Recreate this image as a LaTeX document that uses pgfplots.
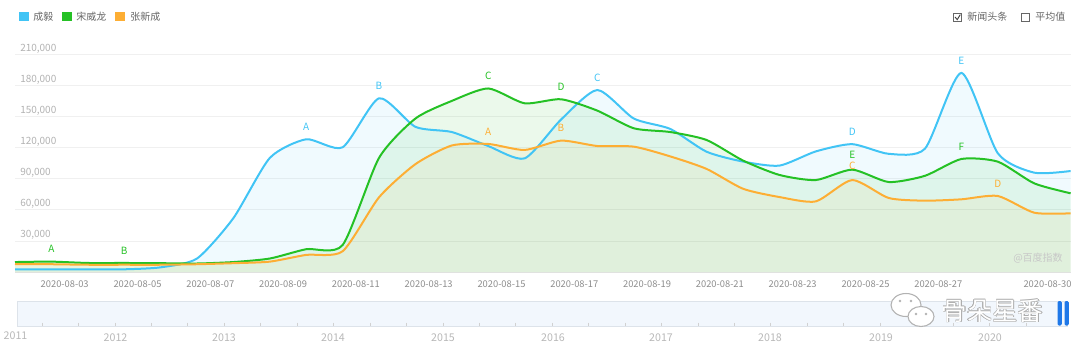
\documentclass[border=0pt]{standalone}
\usepackage{pgfplots}
\pgfplotsset{compat=1.18}
\usepackage{pgfplotstable}
\usetikzlibrary{calc}
\usepackage{fontspec}
\setmainfont{Noto Sans CJK SC}
\definecolor{cb}{HTML}{41C4F5}
\definecolor{cg}{HTML}{25C125}
\definecolor{co}{HTML}{FDAE34}
\definecolor{slfill}{HTML}{F2F7FD}
\definecolor{sldraw}{HTML}{DDE3EA}
\definecolor{handle}{HTML}{1F78E8}

\pgfplotstableread{
x b g o
0 2600 9600 7700
1 2600 10000 7500
2 2600 8700 7000
3 2600 8700 7000
4 4500 8500 7000
5 13000 8200 7500
6 52000 9600 8500
7 110000 13000 10000
8 128000 22000 16500
9 120300 26000 20000
10 167500 110000 72000
11 140000 148000 104000
12 135000 165000 122000
13 121500 177000 123500
14 109600 162700 117700
15 147000 166600 126700
16 175500 155600 121500
17 148000 138600 120900
18 138000 135000 111500
19 116000 127300 99400
20 106500 107500 80300
21 102600 93600 72300
22 116300 88700 68100
23 123300 98700 88700
24 114000 86800 71400
25 119000 92800 68800
26 192000 109000 70100
27 114500 106400 73300
28 95800 85500 57200
29 97400 75900 56600
}\data

\pgfplotstableread{
x y l
8 128000 A
10 167500 B
16 175500 C
23 123300 D
26 192000 E
}\lb
\pgfplotstableread{
x y l
1 10000 A
3 8700 B
13 177000 C
15 166600 D
23 100700 E
26 109000 F
}\lg
\pgfplotstableread{
x y l
13 123500 A
15 126700 B
23 90700 C
27 73300 D
}\lo

\begin{document}
\begin{tikzpicture}
\path[use as bounding box] (0,0) rectangle (810pt,265.5pt);
\begin{axis}[
  at={(11.25pt,61.5pt)}, anchor=south west,
  scale only axis, width=791.7pt, height=167.2pt,
  xmin=0, xmax=29, ymin=0, ymax=215000,
  axis lines*=left,
  x axis line style={draw=black!10, -},
  y axis line style={draw=none},
  major tick length=0pt,
  ytick={30000,60000,90000,120000,150000,180000,210000},
  ymajorgrids, grid style={black!6, line width=0.5pt},
  scaled y ticks=false,
  yticklabel={\pgfmathprintnumber[fixed, precision=0, 1000 sep={,}, assume math mode=true]{\tick}},
  yticklabel style={anchor=south west, inner sep=0pt, xshift=3.75pt, yshift=0.8pt, font=\fontsize{7.5}{9}\selectfont, text=black!30},
  xtick={1.365,3.365,5.365,7.365,9.365,11.365,13.365,15.365,17.365,19.365,21.365,23.365,25.365,28.365},
  xticklabels={2020-08-03,2020-08-05,2020-08-07,2020-08-09,2020-08-11,2020-08-13,2020-08-15,2020-08-17,2020-08-19,2020-08-21,2020-08-23,2020-08-25,2020-08-27,2020-08-30},
  xticklabel style={font=\fontsize{7}{8}\selectfont, text=black!45, yshift=-3pt},
  clip=false,
  every axis plot/.append style={tension=0.4},
]
\addplot[draw=none, fill=cb, fill opacity=0.08, smooth] table[x=x,y=b]{\data} \closedcycle;
\addplot[draw=none, fill=cg, fill opacity=0.09, smooth] table[x=x,y=g]{\data} \closedcycle;
\addplot[draw=none, fill=co, fill opacity=0.08, smooth] table[x=x,y=o]{\data} \closedcycle;
\addplot[cb, line width=1.5pt, smooth] table[x=x,y=b]{\data};
\addplot[cg, line width=1.5pt, smooth] table[x=x,y=g]{\data};
\addplot[co, line width=1.5pt, smooth] table[x=x,y=o]{\data};
\addplot[draw=none, nodes near coords, point meta=explicit symbolic,
  every node near coord/.style={text=cb, font=\fontsize{7.5}{9}\selectfont, anchor=south, yshift=3pt}]
  table[x=x,y=y,meta=l]{\lb};
\addplot[draw=none, nodes near coords, point meta=explicit symbolic,
  every node near coord/.style={text=cg, font=\fontsize{7.5}{9}\selectfont, anchor=south, yshift=3pt}]
  table[x=x,y=y,meta=l]{\lg};
\addplot[draw=none, nodes near coords, point meta=explicit symbolic,
  every node near coord/.style={text=co, font=\fontsize{7.5}{9}\selectfont, anchor=south, yshift=3pt}]
  table[x=x,y=y,meta=l]{\lo};
\end{axis}

\begin{scope}[x=0.75pt, y=-0.75pt, yshift=265.5pt]
% legend
\fill[cb] (19,12) rectangle (29,21.5);
\node[anchor=west, inner sep=0, text=black!60, font=\fontsize{7.5}{9}\selectfont] at (33,16.5) {成毅};
\fill[cg] (62,12) rectangle (72,21.5);
\node[anchor=west, inner sep=0, text=black!60, font=\fontsize{7.5}{9}\selectfont] at (76,16.5) {宋威龙};
\fill[co] (115,12) rectangle (125,21.5);
\node[anchor=west, inner sep=0, text=black!60, font=\fontsize{7.5}{9}\selectfont] at (130,16.5) {张新成};
% checkboxes
\draw[black!60, line width=0.6pt] (953,13) rectangle (961.5,21.5);
\draw[black!75, line width=0.7pt] (955,17) -- (957.2,19.6) -- (960.3,14.6);
\node[anchor=west, inner sep=0, text=black!60, font=\fontsize{7.5}{9}\selectfont] at (967,17) {新闻头条};
\draw[black!60, line width=0.6pt] (1021,13) rectangle (1029.5,21.5);
\node[anchor=west, inner sep=0, text=black!60, font=\fontsize{7.5}{9}\selectfont] at (1035,17) {平均值};
% watermark
\node[text=black!22, font=\fontsize{7.5}{9}\selectfont] at (1038,258.5) {@百度指数};
% slider
\filldraw[fill=slfill, draw=sldraw, line width=0.6pt] (17,301) rectangle (1067,326);
\foreach \i in {0,...,27} \draw[black!18, line width=0.5pt] ({42+\i*36.44},322.5) -- ++(0,3.5);
\foreach \yr/\xx in {2012/115.5,2013/224,2014/333,2015/443,2016/553,2017/661,2018/770,2019/881,2020/990}
  \node[text=black!28, font=\fontsize{8}{9}\selectfont] at (\xx,337.5) {\yr};
\node[text=black!28, font=\fontsize{8}{9}\selectfont] at (15.5,335.5) {2011};
\fill[handle, rounded corners=1pt] (1057.5,301) rectangle (1061.8,325.5);
\fill[handle, rounded corners=1pt] (1064.5,301) rectangle (1068.8,325.5);
% wechat watermark
\filldraw[fill=white, draw=black!30, line width=0.8pt] (906,305) ellipse [x radius=15, y radius=11.5];
\filldraw[fill=white, draw=black!30, line width=0.8pt] (921,316.5) ellipse [x radius=13, y radius=10];
\fill[black!30] (900,301) circle (1.3) (911,301) circle (1.3) (916,314) circle (1.3) (926,314) circle (1.3);
\foreach \dx/\dy in {0.5/0,-0.5/0,0/0.5,0/-0.5,0.4/0.4,-0.4/-0.4,0.4/-0.4,-0.4/0.4}
  \node[text=black!32, font=\fontsize{19}{20}\selectfont] at ($(992.5,311)+(\dx,\dy)$) {骨朵星番};
\node[text=white, font=\fontsize{19}{20}\selectfont] at (992.5,311) {骨朵星番};
\end{scope}
\end{tikzpicture}
\end{document}
